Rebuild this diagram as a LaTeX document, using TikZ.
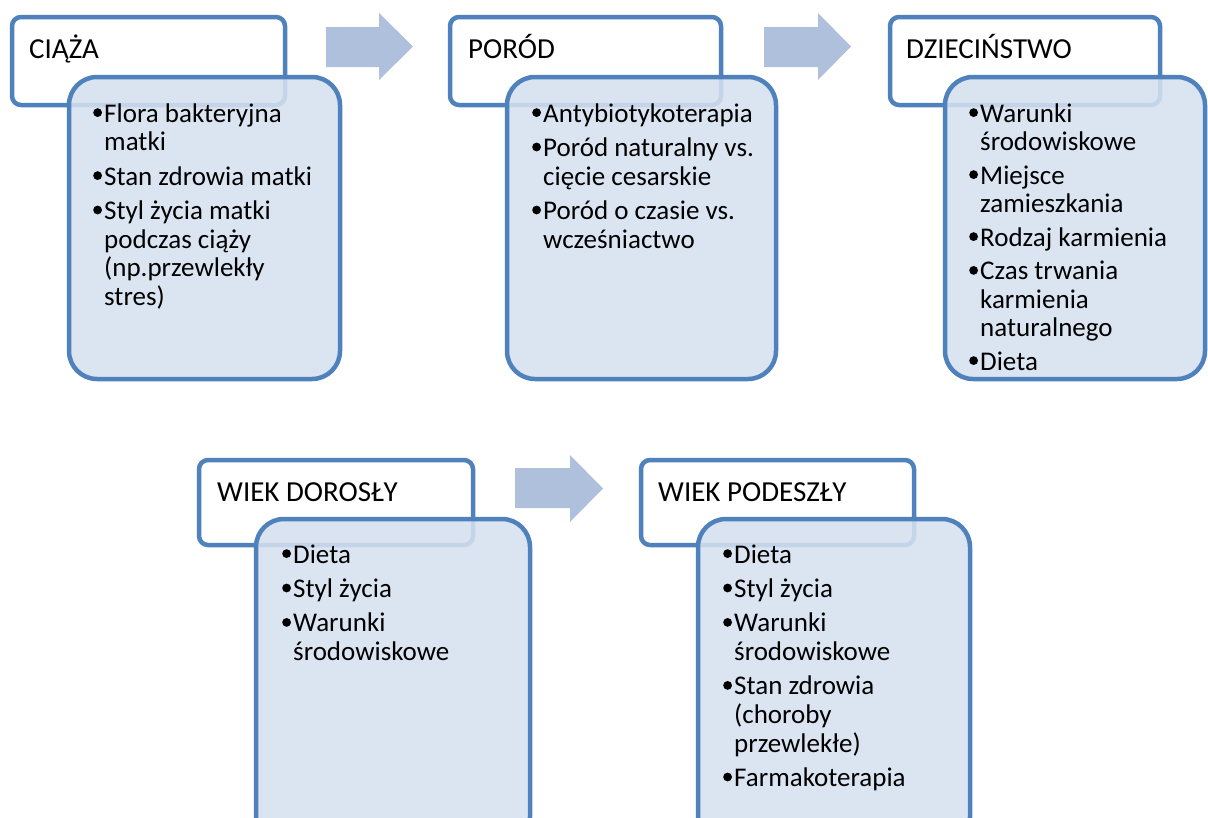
\documentclass[tikz,border=0pt]{standalone}
\usepackage{fontspec}
\setmainfont{Carlito}
\definecolor{bord}{HTML}{4F81BD}
\definecolor{dfill}{HTML}{D6E1F0}
\definecolor{arr}{HTML}{AFC0DD}
\newlength\bw \setlength\bw{11pt}
\newcommand\Bu{\makebox[\bw][l]{\tikz[baseline=0pt]\fill[black] (4.2pt,9.4pt) circle (4.4pt);}}
\newcommand\In{\hspace*{\bw}}
\newcommand\Ln[1]{\hbox{#1}}
\newcommand\Gap{\vskip5.8pt}
\newcommand\Lst[1]{\vtop{\fontsize{27}{28.6}\selectfont #1}}
\tikzset{
  header/.style={draw=bord, line width=4.5pt, rounded corners=9pt, fill=white},
  detail/.style={draw=bord, line width=4.5pt, rounded corners=28pt, fill=dfill, fill opacity=0.88},
  title/.style={anchor=base west, inner sep=0pt, font=\fontsize{29}{31}\selectfont},
  items/.style={anchor=base west, inner sep=0pt},
  flow/.style={fill=arr, draw=none}
}
\begin{document}
\begin{tikzpicture}[x=1pt,y=-1pt]
\useasboundingbox (0,0) rectangle (1208,817);
\clip (0,0) rectangle (1208,817);
% arrows
\fill[flow] (326,27) -- (379,27) -- (379,13) -- (413,46.5) -- (379,80) -- (379,67) -- (326,67) -- cycle;
\fill[flow] (764,27) -- (818,27) -- (818,13) -- (851,46.5) -- (818,80) -- (818,67) -- (764,67) -- cycle;
\fill[flow] (515,468) -- (570,468) -- (570,455) -- (603,488.5) -- (570,522) -- (570,508) -- (515,508) -- cycle;
% stage 1
\draw[header] (12,17) rectangle (285,105);
\draw[detail] (69,77) rectangle (340,379);
\node[title] (h1) at (29,58) {CIĄŻA};
\node[items] (l1) at (93,122) {\Lst{\Ln{\Bu Flora bakteryjna}\Ln{\In matki}\Gap
  \Ln{\Bu Stan zdrowia matki}\Gap
  \Ln{\Bu Styl życia matki}\Ln{\In podczas ciąży}\Ln{\In (np.przewlekły}\Ln{\In stres)}}};
% stage 2
\draw[header] (450,17) rectangle (721,105);
\draw[detail] (507,77) rectangle (776,379);
\node[title] (h2) at (468,58) {PORÓD};
\node[items] (l2) at (532,122) {\Lst{\Ln{\Bu Antybiotykoterapia}\Gap
  \Ln{\Bu Poród naturalny vs.}\Ln{\In cięcie cesarskie}\Gap
  \Ln{\Bu Poród o czasie vs.}\Ln{\In wcześniactwo}}};
% stage 3
\draw[header] (890,17) rectangle (1160,105);
\draw[detail] (945,77) rectangle (1205,379);
\node[title] (h3) at (906,58) {DZIECIŃSTWO};
\node[items] (l3) at (969,122) {\vtop{\fontsize{27}{28.2}\selectfont
  \Ln{\Bu Warunki}\Ln{\In środowiskowe}\vskip5.6pt
  \Ln{\Bu Miejsce}\Ln{\In zamieszkania}\vskip5.6pt
  \Ln{\Bu Rodzaj karmienia}\vskip5.6pt
  \Ln{\Bu Czas trwania}\Ln{\In karmienia}\Ln{\In naturalnego}\vskip5.6pt
  \Ln{\Bu Dieta}}};
% stage 4
\draw[header] (199,460) rectangle (473,545);
\draw[detail] (256,519) rectangle (530,845);
\node[title] (h4) at (217,501) {WIEK DOROSŁY};
\node[items] (l4) at (282,563) {\Lst{\Ln{\Bu Dieta}\Gap
  \Ln{\Bu Styl życia}\Gap
  \Ln{\Bu Warunki}\Ln{\In środowiskowe}}};
% stage 5
\draw[header] (641,460) rectangle (914,545);
\draw[detail] (698,519) rectangle (970,845);
\node[title] (h5) at (658,501) {WIEK PODESZŁY};
\node[items] (l5) at (723,563) {\Lst{\Ln{\Bu Dieta}\Gap
  \Ln{\Bu Styl życia}\Gap
  \Ln{\Bu Warunki}\Ln{\In środowiskowe}\Gap
  \Ln{\Bu Stan zdrowia}\Ln{\In (choroby}\Ln{\In przewlekłe)}\Gap
  \Ln{\Bu Farmakoterapia}}};
\end{tikzpicture}
\end{document}
